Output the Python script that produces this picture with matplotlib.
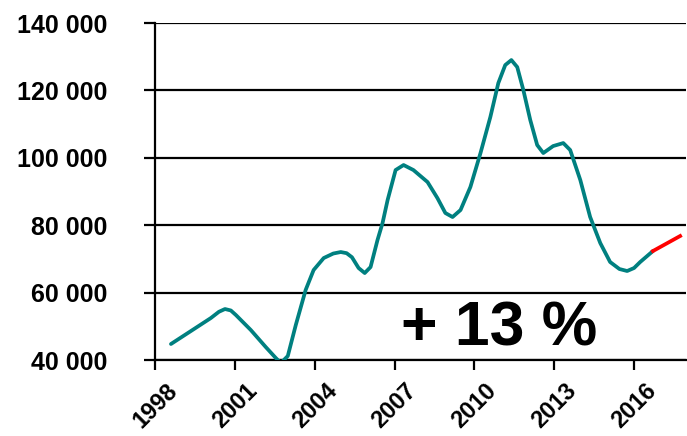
import matplotlib
matplotlib.use("Agg")
import matplotlib.pyplot as plt

# values
years = [1998.60, 1999.35, 2000.10, 2000.40, 2000.63, 2000.85, 2001.04, 2001.60,
         2002.16, 2002.54, 2002.73, 2002.99, 2003.29, 2003.66, 2003.96, 2004.34,
         2004.70, 2004.98, 2005.20, 2005.40, 2005.65, 2005.88, 2006.10, 2006.36,
         2006.55, 2006.74, 2007.04, 2007.34, 2007.71, 2008.24, 2008.61, 2008.91,
         2009.18, 2009.48, 2009.85, 2010.23, 2010.60, 2010.90, 2011.16, 2011.39,
         2011.61, 2011.84, 2012.10, 2012.36, 2012.59, 2012.96, 2013.34, 2013.60,
         2013.98, 2014.35, 2014.73, 2015.10, 2015.45, 2015.74, 2016.00, 2016.23,
         2016.71]
values = [44750, 48600, 52460, 54300, 55130, 54700, 53350, 48900,
          43860, 40590, 39100, 41190, 50380, 60770, 66700, 70260,
          71600, 72040, 71700, 70500, 67300, 65810, 67590, 75600,
          80650, 87470, 96370, 97860, 96370, 92810, 88070, 83620,
          82430, 84510, 91330, 101420, 112100, 122190, 127530, 129010,
          126930, 120110, 111210, 103790, 101420, 103490, 104380, 102310,
          93410, 82430, 74710, 69080, 67000, 66410, 67300, 69080,
          72340]

red_years = [2016.71, 2017.73]
red_values = [72340, 76790]

xticks = [1998, 2001, 2004, 2007, 2010, 2013, 2016]
yticks = [40000, 60000, 80000, 100000, 120000, 140000]
ylabels = ["40 000", "60 000", "80 000", "100 000", "120 000", "140 000"]

plt.rcParams['font.family'] = ['Liberation Sans', 'DejaVu Sans']

fig = plt.figure(figsize=(6.87, 4.36), dpi=100)
ax = fig.add_axes([0.2256, 0.1743, 0.7729, 0.7729])

for v in yticks:
    ax.axhline(v, color='black', lw=1.6, zorder=1)

ax.plot(years, values, color='#008080', lw=2.7, zorder=3,
        solid_joinstyle='round', solid_capstyle='round')
ax.plot(red_years, red_values, color='#ff0000', lw=2.7, zorder=3)

ax.set_xlim(1998, 2017.95)
ax.set_ylim(40000, 140000)
ax.set_xticks(xticks)
ax.set_xticklabels([str(x) for x in xticks], rotation=45, ha='center',
                   fontsize=17, fontweight='bold')
ax.set_yticks(yticks)
ax.set_yticklabels(ylabels, fontsize=18, fontweight='bold')
ax.tick_params(axis='x', direction='out', length=7, width=1.6, pad=7)
ax.tick_params(axis='y', direction='out', length=8, width=1.6, pad=26)

for s in ['top', 'right']:
    ax.spines[s].set_visible(False)
ax.spines['left'].set_linewidth(1.6)
ax.spines['bottom'].set_linewidth(1.6)

ax.text(2010.94, 49200, "+ 13 %", fontsize=45, fontweight='bold',
        ha='center', va='center', zorder=4)

fig.savefig("out.png", dpi=100)
